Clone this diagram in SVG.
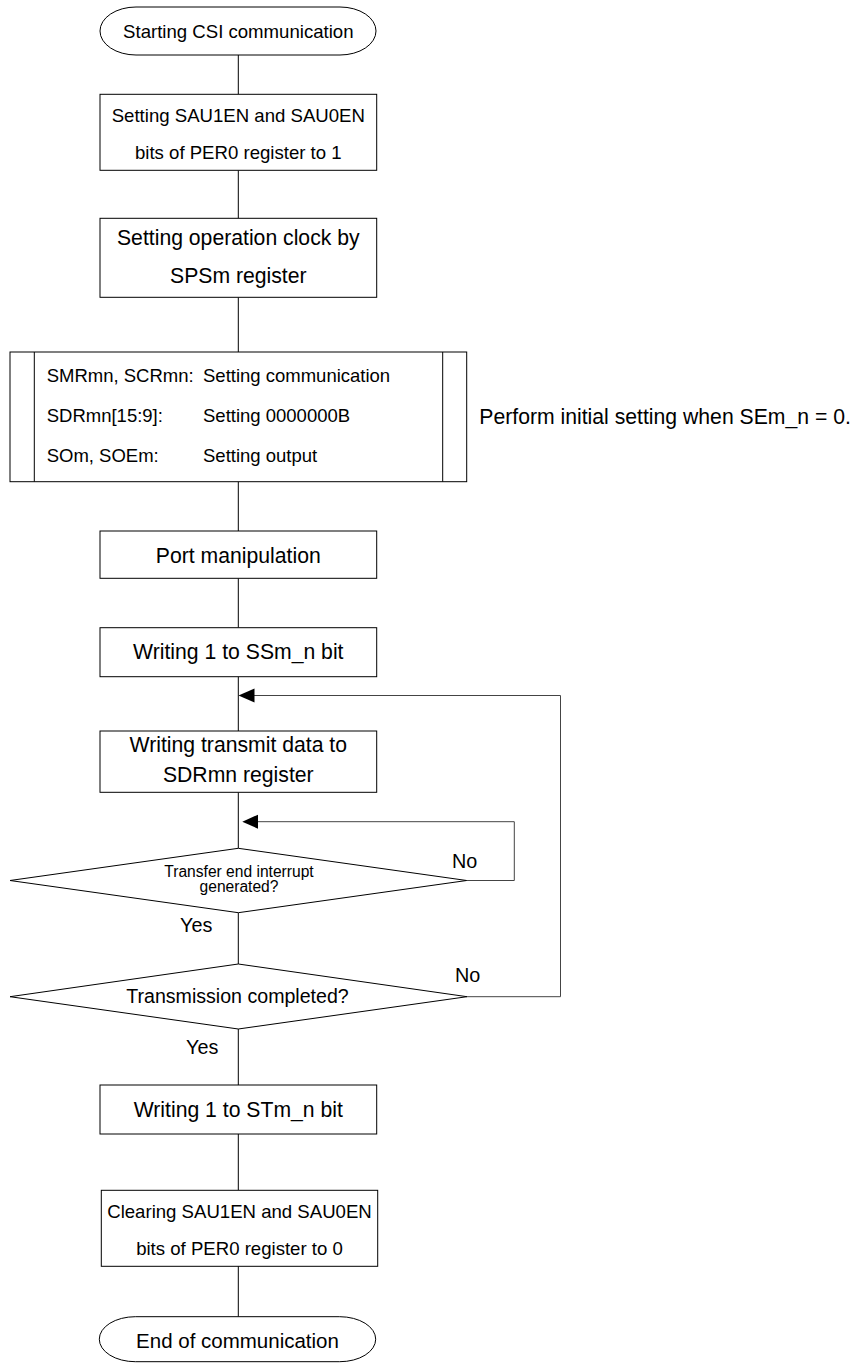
<svg xmlns="http://www.w3.org/2000/svg" width="855" height="1363" viewBox="0 0 855 1363">
<style>
.s{fill:#fff;stroke:#000;stroke-width:1}
.c{fill:none;stroke:#000;stroke-width:1}
.g{fill:none;stroke:#444;stroke-width:1}
text{font-family:"Liberation Sans",Arial,sans-serif;fill:#000}
.m{text-anchor:middle}
</style>
<defs>
<marker id="ah" markerUnits="userSpaceOnUse" markerWidth="17" markerHeight="16" refX="0" refY="7" orient="auto-start-reverse" viewBox="0 0 17 14">
<path d="M0,7 L16,0 L16,14 Z" fill="#000"/>
</marker>
</defs>
<rect width="855" height="1363" fill="#fff"/>
<g id="connectors">
<path class="c" d="M238.3,55V94.3M238.3,170.3V218.3M238.3,297.3V352M238.3,481.7V531M238.3,578.3V627.7M238.3,676.7V731M238.3,792.3V848.3M238.3,912.7V964M238.3,1029V1085M238.3,1134V1190M238.3,1266V1316.7"/>
<path class="g" d="M467,996.7H560.5V695.5H254"/>
<polygon points="238.5,695.5 254.5,688.5 254.5,702.5" fill="#000"/>
<path class="g" d="M466.7,880.5H514.3V821.7H258"/>
<polygon points="242.3,821.7 258,814.7 258,828.7" fill="#000"/>
</g>
<g id="start">
<rect class="s" x="100" y="7" width="276" height="48" rx="36" ry="24"/>
<text class="m" x="238.3" y="38" font-size="18.6">Starting CSI communication</text>
</g>
<g id="per0set">
<rect class="s" x="100" y="94.3" width="276.7" height="76"/>
<text class="m" x="238.3" y="122" font-size="18.6">Setting SAU1EN and SAU0EN</text>
<text class="m" x="238.3" y="158.5" font-size="18.6">bits of PER0 register to 1</text>
</g>
<g id="clock">
<rect class="s" x="100" y="218.3" width="276.7" height="79"/>
<text class="m" x="238.3" y="245" font-size="21.2">Setting operation clock by</text>
<text class="m" x="238.3" y="282.7" font-size="21.2">SPSm register</text>
</g>
<g id="init">
<rect class="s" x="10" y="352" width="456.7" height="129.7"/>
<path class="c" d="M34.3,352V481.7M442.7,352V481.7"/>
<text x="46.7" y="382.3" font-size="18.5">SMRmn, SCRmn:</text>
<text x="203" y="382.3" font-size="18.5">Setting communication</text>
<text x="46.7" y="422.3" font-size="18.5">SDRmn[15:9]:</text>
<text x="203" y="422.3" font-size="18.5">Setting 0000000B</text>
<text x="46.7" y="462.3" font-size="18.5">SOm, SOEm:</text>
<text x="203" y="462.3" font-size="18.5">Setting output</text>
</g>
<g id="note">
<text x="479.3" y="423.5" font-size="21.2">Perform initial setting when SEm_n = 0.</text>
</g>
<g id="port">
<rect class="s" x="100" y="531" width="276.7" height="47.3"/>
<text class="m" x="238.3" y="563.3" font-size="21.2">Port manipulation</text>
</g>
<g id="ss">
<rect class="s" x="100" y="627.7" width="276.7" height="49"/>
<text class="m" x="238.3" y="659.3" font-size="21.2">Writing 1 to SSm_n bit</text>
</g>
<g id="tx">
<rect class="s" x="100" y="731" width="276.7" height="61.3"/>
<text class="m" x="238.3" y="751.7" font-size="21.2">Writing transmit data to</text>
<text class="m" x="238.3" y="781.5" font-size="21.2">SDRmn register</text>
</g>
<g id="dec1">
<polygon class="s" points="238.3,848.3 466.7,880.5 238.3,912.7 10,880.5"/>
<text class="m" x="239" y="877.3" font-size="15.6">Transfer end interrupt</text>
<text class="m" x="239" y="892.3" font-size="15.6">generated?</text>
<text x="452" y="867.6" font-size="19.8">No</text>
<text x="180" y="931.7" font-size="19.8">Yes</text>
</g>
<g id="dec2">
<polygon class="s" points="238.3,964 467,996.7 238.3,1029 10,996.7"/>
<text class="m" x="237.5" y="1003.3" font-size="19.6">Transmission completed?</text>
<text x="455" y="981.7" font-size="19.8">No</text>
<text x="186" y="1053.5" font-size="19.8">Yes</text>
</g>
<g id="st">
<rect class="s" x="100" y="1085" width="276.7" height="49"/>
<text class="m" x="238.3" y="1116.7" font-size="21.2">Writing 1 to STm_n bit</text>
</g>
<g id="per0clr">
<rect class="s" x="101.3" y="1190.3" width="276.4" height="76"/>
<text class="m" x="239.5" y="1218.3" font-size="18.6">Clearing SAU1EN and SAU0EN</text>
<text class="m" x="239.5" y="1255" font-size="18.6">bits of PER0 register to 0</text>
</g>
<g id="end">
<rect class="s" x="99.3" y="1316.7" width="276.4" height="45" rx="36" ry="22.5"/>
<text class="m" x="237.5" y="1348.3" font-size="20.5">End of communication</text>
</g>
</svg>
